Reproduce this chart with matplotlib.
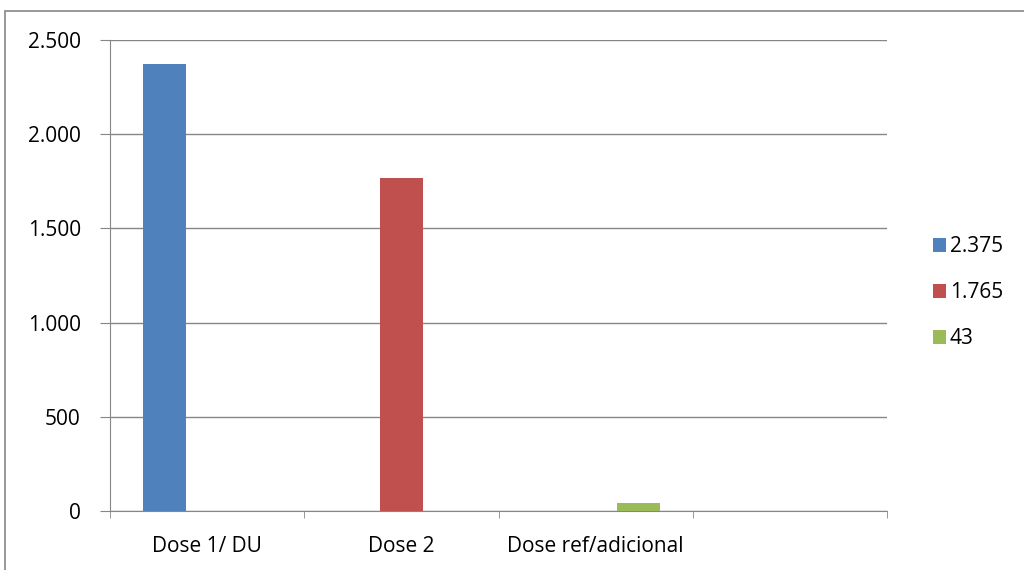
import numpy as np
import matplotlib
matplotlib.use('Agg')
import matplotlib.pyplot as plt
from matplotlib.ticker import FuncFormatter
from matplotlib.patches import Rectangle

# data
categories = ['Dose 1/ DU', 'Dose 2', 'Dose ref/adicional', '']
series_names = ['2.375', '1.765', '43']
dose1 = [2375, np.nan, np.nan, np.nan]
dose2 = [np.nan, 1765, np.nan, np.nan]
dose_ref = [np.nan, np.nan, 43, np.nan]
colors = ['#4F81BD', '#C0504D', '#9BBB59']
y_ticks = [0, 500, 1000, 1500, 2000, 2500]

plt.rcParams['font.family'] = ['Open Sans', 'DejaVu Sans']

fig = plt.figure(figsize=(10.24, 5.7), dpi=100)
ax = fig.add_axes([110/1024, 1 - 511/570, (887 - 110)/1024, (511 - 40)/570])

x = np.arange(len(categories))
w = 43 / 194.25
for i, (vals, name) in enumerate(zip([dose1, dose2, dose_ref], series_names)):
    ax.bar(x + (i - 1) * w, vals, width=w, color=colors[i], label=name, zorder=3)

ax.set_xlim(-0.5, len(categories) - 0.5)
ax.set_ylim(0, 2500)
ax.set_yticks(y_ticks)
ax.yaxis.set_major_formatter(FuncFormatter(lambda v, p: f'{int(v):,}'.replace(',', '.')))
ax.grid(axis='y', color='#868686', linewidth=1, zorder=0)

# category labels centred, ticks on boundaries
ax.set_xticks(x)
ax.set_xticklabels(categories, fontsize=15)
ax.tick_params(axis='x', length=0, pad=18)
ax.set_xticks(np.arange(len(categories) + 1) - 0.5, minor=True)
ax.tick_params(axis='x', which='minor', length=5, color='#868686', direction='out')
ax.tick_params(axis='y', length=7, color='#868686', labelsize=15, pad=14)

for s in ['top', 'right']:
    ax.spines[s].set_visible(False)
ax.spines['left'].set_color('#868686')
ax.spines['bottom'].set_color('#868686')

leg = ax.legend(loc='center left', bbox_to_anchor=(1.048, 0.463), frameon=False,
                fontsize=15, handlelength=0.62, handleheight=0.62,
                handletextpad=0.2, labelspacing=1.2, borderaxespad=0)

# outer chart border (partly cropped)
fig.patches.append(Rectangle((5/1024, -0.05), 1.2, (570 - 11)/570 + 0.05,
                             transform=fig.transFigure, fill=False,
                             edgecolor='#868686', linewidth=1.2))

fig.savefig('out.png', dpi=100)
